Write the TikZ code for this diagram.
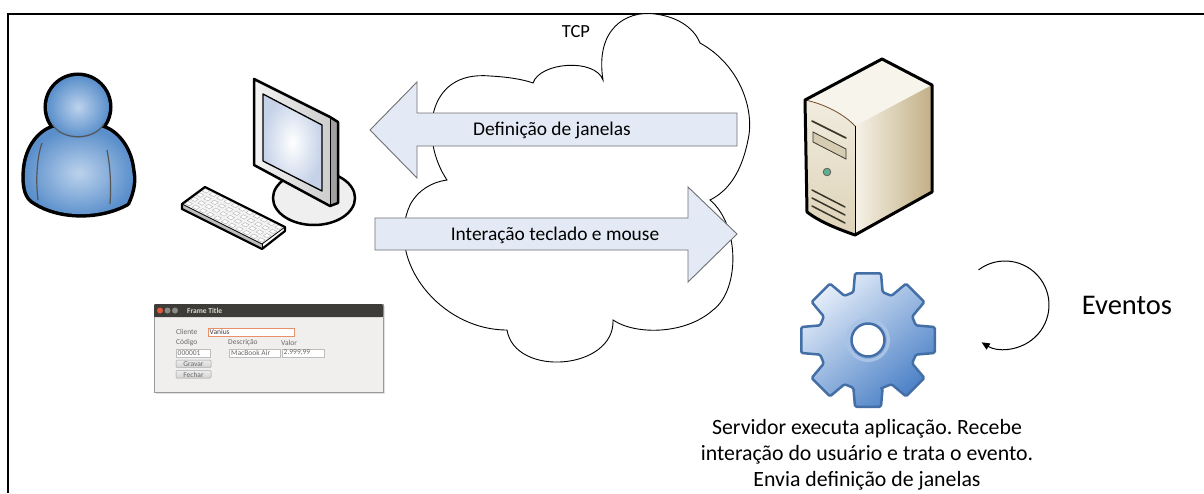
\documentclass[tikz,border=0pt]{standalone}
\usepackage{fontspec}
\setmainfont{Carlito}
\usetikzlibrary{arrows.meta,calc}
\frenchspacing

\definecolor{arrowfill}{HTML}{E3E9F5}
\definecolor{arrowline}{HTML}{707070}
\definecolor{persondark}{HTML}{5A8FCB}
\definecolor{personlight}{HTML}{BCD2EC}
\definecolor{creasegray}{HTML}{555555}
\definecolor{bezellight}{HTML}{F4F4F4}
\definecolor{bezeldark}{HTML}{CDCDCD}
\definecolor{sidegray}{HTML}{A0A0A0}
\definecolor{screenblue}{HTML}{C5D2E8}
\definecolor{standgray}{HTML}{EFEFEF}
\definecolor{kbtop}{HTML}{F3F3F3}
\definecolor{kbkey}{HTML}{FFFFFF}
\definecolor{kbkeyline}{HTML}{B5B5B5}
\definecolor{kbside}{HTML}{BDBDBD}
\definecolor{srvtop}{HTML}{F7F4EC}
\definecolor{srvfronttop}{HTML}{F1ECDF}
\definecolor{srvfrontbot}{HTML}{DED3B8}
\definecolor{srvsidel}{HTML}{F6F2E7}
\definecolor{srvsider}{HTML}{C2AF85}
\definecolor{srvdetail}{HTML}{3A352A}
\definecolor{srvbay}{HTML}{D6CCB2}
\definecolor{ledgreen}{HTML}{5DB08F}
\definecolor{gearlight}{HTML}{E4EDF9}
\definecolor{geardark}{HTML}{4C81C7}
\definecolor{gearline}{HTML}{436FA6}
\definecolor{gearring}{HTML}{A9C3E6}
\definecolor{winbg}{HTML}{F0EFED}
\definecolor{winborder}{HTML}{9A9A9A}
\definecolor{titlebar}{HTML}{3D3C38}
\definecolor{titletext}{HTML}{DFDBD2}
\definecolor{closeorange}{HTML}{E4583A}
\definecolor{ctrlgray}{HTML}{8B8A85}
\definecolor{wintext}{HTML}{6A6A6A}
\definecolor{fieldline}{HTML}{BDBDBD}
\definecolor{focusline}{HTML}{E8906C}
\definecolor{btntop}{HTML}{EDEDED}
\definecolor{btnbot}{HTML}{D2D2D2}

\tikzset{
  blockarrow/.style={fill=arrowfill, draw=arrowline, line width=0.9, line join=miter},
  cloudline/.style={fill=white, draw=black, line width=0.9},
  heavyline/.style={draw=black, line width=2.5, line join=round},
  arrowlabel/.style={inner sep=0, font=\fontsize{19.4}{23}\selectfont},
  srvlabel/.style={inner sep=0, anchor=base, font=\fontsize{21.8}{26}\selectfont},
  wintxt/.style={inner sep=0, anchor=west, text=wintext, font=\fontsize{7.5}{8}\selectfont},
  field/.style={fill=white, draw=fieldline, line width=0.5},
  winbutton/.style={top color=btntop, bottom color=btnbot, draw=fieldline, line width=0.5, rounded corners=1},
}

\begin{document}
\begin{tikzpicture}[x=1pt, y=-1pt]
\useasboundingbox (0,0) rectangle (1204,493);
\fill[white] (0,0) rectangle (1204,493);

% page frame
\draw[line width=2.4] (8,493) -- (8,14) -- (1204,14);

% ---------- user ----------
\def\bodypath{(53,128) .. controls (38,133) and (26,150) .. (25,172)
  .. controls (24,188) and (27,198) .. (35,202)
  .. controls (60,218) and (100,218) .. (127,203)
  .. controls (133,190) and (134,180) .. (132,170)
  .. controls (130,150) and (118,133) .. (103,128) -- cycle}
\draw[line width=7, line join=round] \bodypath;
\draw[line width=7] (78,107) circle[radius=31];
\shade[inner color=personlight, outer color=persondark] \bodypath;
\shade[inner color=personlight, outer color=persondark] (78,107) circle[radius=31];
\draw[creasegray, line width=1.2] (52,124) .. controls (62,141) and (94,141) .. (104,124);
\draw[creasegray, line width=1.2] (42,143) .. controls (36,160) and (36,185) .. (38,200);
\draw[creasegray, line width=1.2] (107,150) .. controls (111,170) and (111,190) .. (110,204);

% ---------- computer ----------
% stand disc
\filldraw[fill=standgray, line width=2.5] (314,198) ellipse[x radius=41, y radius=27];
% monitor depth and bezel
\fill[sidegray] (330,117) -- (338,122) -- (338,203) -- (330,206) -- cycle;
\shade[left color=bezellight, right color=bezeldark] (254,79) -- (330,117) -- (330,206) -- (254,165) -- cycle;
\draw[heavyline] (254,79) -- (330,117) -- (338,122) -- (338,203) -- (330,206) -- (254,165) -- cycle;
\draw[line width=0.8] (330,117) -- (330,206);
% screen
\shade[inner color=white, outer color=screenblue] (263,94) -- (322,125) -- (322,191) -- (263,161) -- cycle;
\draw[line width=1.3, line join=round] (263,94) -- (322,125) -- (322,191) -- (263,161) -- cycle;
% keyboard
\fill[kbside] (182,204) -- (262,244) -- (262,249) -- (182,209) -- cycle;
\fill[kbtop] (182,204) -- (205,187) -- (285,227) -- (262,244) -- cycle;
\foreach \i in {0,...,3}{
  \foreach \j in {0,...,10}{
    \filldraw[fill=kbkey, draw=kbkeyline, line width=0.4]
      ({182+(\j+0.2)*80/11+(\i+0.25)*23/4}, {204+(\j+0.2)*40/11-(\i+0.25)*17/4})
      -- ++({0.6*80/11}, {0.6*40/11}) -- ++({0.55*23/4}, {-0.55*17/4})
      -- ++({-0.6*80/11}, {-0.6*40/11}) -- cycle;
  }
}
\draw[heavyline, line width=2.2] (182,204) -- (205,187) -- (285,227) -- (285,231) -- (262,249) -- (182,209) -- cycle;
\draw[line width=0.8] (182,204) -- (262,244) -- (285,227);
\draw[line width=0.8] (262,244) -- (262,249);

% ---------- client window ----------
\fill[black!12] (156,306) rectangle (385,394);
\filldraw[fill=winbg, draw=winborder, line width=0.5] (154,304) rectangle (383,392);
\fill[titlebar, rounded corners=1.5] (154,304) rectangle (383,317);
\fill[titlebar] (154,310) rectangle (383,317);
\fill[closeorange] (160,310.5) circle[radius=3];
\fill[ctrlgray] (167.5,310.5) circle[radius=3];
\fill[ctrlgray] (175,310.5) circle[radius=3];
\node[wintxt, text=titletext, font=\fontsize{7.5}{8}\bfseries] (wtitle) at (187,310.5) {Frame Title};
\node[wintxt] (wcli) at (176,332) {Cliente};
\filldraw[fill=white, draw=focusline, line width=0.7] (208,328.5) rectangle (294,336);
\node[wintxt, text=black!75] (wvan) at (209.5,332.3) {Vanius};
\node[wintxt] (wcod) at (176,342.5) {Código};
\node[wintxt] (wdesc) at (228,342.5) {Descrição};
\node[wintxt] (wval) at (281,342.5) {Valor};
\filldraw[field] (176,349) rectangle (210,357);
\filldraw[field] (229,349) rectangle (280,357);
\filldraw[field] (282,349) rectangle (324,357);
\node[wintxt] (wf1) at (177.5,353) {000001};
\node[wintxt] (wf2) at (231,353) {MacBook Air};
\node[wintxt] (wf3) at (283.5,353) {2.999,99};
\shade[winbutton] (176,360) rectangle (211,367.5);
\draw[fieldline, line width=0.5, rounded corners=1] (176,360) rectangle (211,367.5);
\shade[winbutton] (176,370.5) rectangle (211,378);
\draw[fieldline, line width=0.5, rounded corners=1] (176,370.5) rectangle (211,378);
\node[wintxt, anchor=center] (wgrv) at (193.5,364) {Gravar};
\node[wintxt, anchor=center] (wfch) at (193.5,374.5) {Fechar};

% ---------- network cloud ----------
\path[cloudline] (603,80)
  .. controls (595,30) and (625,10) .. (655,14)
  .. controls (680,17) and (695,30) .. (700,43)
  .. controls (740,65) and (755,110) .. (748,140)
  .. controls (742,170) and (730,190) .. (710,200)
  .. controls (740,225) and (740,290) .. (713,310)
  .. controls (685,335) and (635,335) .. (613,320)
  .. controls (615,370) and (515,378) .. (507,330)
  .. controls (440,330) and (385,260) .. (410,205)
  .. controls (418,190) and (432,182) .. (447,180)
  .. controls (420,140) and (425,70) .. (490,76)
  .. controls (510,77) and (525,80) .. (533,83)
  .. controls (540,62) and (595,58) .. (603,80) -- cycle;
\node[inner sep=0, font=\fontsize{18.5}{22}\selectfont] (tcp) at (576,32) {TCP};

% ---------- block arrows ----------
\path[blockarrow] (370,130) -- (417,82) -- (417,113) -- (737,113) -- (737,146) -- (417,146) -- (417,178) -- cycle;
\node[arrowlabel] (defjan) at (552,130) {Definição de janelas};
\path[blockarrow] (375,218) -- (688,218) -- (688,187) -- (737,234) -- (688,282) -- (688,250) -- (375,250) -- cycle;
\node[arrowlabel] (inter) at (555,235) {Interação teclado e mouse};

% ---------- server ----------
\fill[srvtop] (805,100) -- (882,59) -- (932,85) -- (855,126) .. controls (845,115) and (825,104) .. (805,100) -- cycle;
\shade[left color=srvsidel, right color=srvsider] (855,126) -- (932,85) -- (932,192) -- (855,235) -- cycle;
\shade[top color=srvfronttop, bottom color=srvfrontbot] (805,100) .. controls (825,104) and (845,115) .. (855,126) -- (855,235) .. controls (838,229) and (820,222) .. (807,212) -- cycle;
\draw[line width=0.8, brown!60!black] (805,100) .. controls (825,104) and (845,115) .. (855,126);
\draw[line width=0.8] (855,126) -- (855,235);
\draw[heavyline, line width=3] (805,100) -- (882,59) -- (932,85) -- (932,192) -- (855,235) .. controls (838,229) and (820,222) .. (807,212) -- cycle;
\draw[srvdetail, line width=1.6, line cap=round] (812,121) -- (846,138);
\filldraw[fill=srvbay, draw=srvdetail, line width=0.8] (813,132) -- (846,149) -- (846,159) -- (813,142) -- cycle;
\filldraw[fill=ledgreen, draw=srvdetail!80, line width=0.8] (827,172) circle[radius=3.8];
\foreach \d in {0,8,16}{
  \draw[srvdetail, line width=1.5, line cap=round] (812,{190+\d}) -- (845,{207+\d});
}

% ---------- application gear ----------
\begin{scope}[shift={(868,340)}]
\shadedraw[top color=gearlight, bottom color=geardark, shading angle=40,
  draw=gearline, line width=2.5, line join=round, rounded corners=1.5]
  (74:50) \foreach \k in {0,...,7}{
    -- ({90+45*\k-17}:50) -- ({90+45*\k-11}:68) -- ({90+45*\k+11}:68) -- ({90+45*\k+17}:50)
  } -- cycle;
\draw[gearring, line width=3] (0,0) circle[radius=20.5];
\filldraw[fill=white, draw=gearline, line width=2.5] (0,0) circle[radius=16.5];
\end{scope}

% event loop
\coordinate (loopc) at (1005,305);
\draw[line width=1, -{Triangle[length=8,width=7]}] ($(loopc)+(-127:44)$) arc[start angle=-127, end angle=122, radius=44];
\node[inner sep=0, font=\fontsize{28.5}{34}\selectfont] (eventos) at (1127,305) {Eventos};

% server description
\node[srvlabel] (srv1) at (867,434) {Servidor executa aplicação. Recebe};
\node[srvlabel] (srv2) at (867,460) {interação do usuário e trata o evento.};
\node[srvlabel] (srv3) at (867,486) {Envia definição de janelas};

\end{tikzpicture}
\end{document}
